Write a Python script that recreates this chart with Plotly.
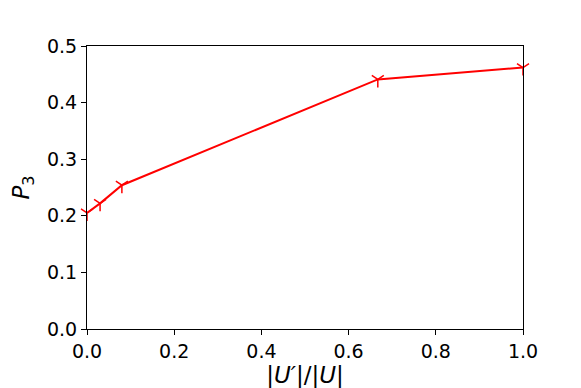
import plotly.graph_objects as go

ratio = [0.0, 0.03, 0.08, 0.667, 1.0]
p3 = [0.205, 0.222, 0.254, 0.441, 0.462]
x_ticks = [0.0, 0.2, 0.4, 0.6, 0.8, 1.0]
y_ticks = [0.0, 0.1, 0.2, 0.3, 0.4, 0.5]

fig = go.Figure()
fig.add_trace(go.Scatter(
    x=ratio, y=p3, mode="lines+markers",
    line=dict(color="#ff0000", width=2),
    marker=dict(symbol="y-down", size=10, color="#ff0000",
                line=dict(color="#ff0000", width=1.5)),
    cliponaxis=False, showlegend=False,
))

axis_common = dict(
    showline=True, linecolor="black", linewidth=1, mirror=True,
    ticks="outside", ticklen=5, tickwidth=1, tickcolor="black",
    showgrid=False, zeroline=False, automargin=False,
    tickfont=dict(family="DejaVu Sans", size=19, color="black"),
)
fig.update_xaxes(range=[0, 1], tickvals=x_ticks,
                 ticktext=[f"{v:.1f}" for v in x_ticks],
                 title=dict(text="|<i>U′</i>|/|<i>U</i>|",
                            font=dict(family="DejaVu Sans", size=23, color="black"),
                            standoff=4),
                 **axis_common)
fig.update_yaxes(range=[0, 0.5], tickvals=y_ticks,
                 ticktext=[f"{v:.1f}" for v in y_ticks],
                 title=dict(text="<i>P</i><sub>3</sub>",
                            font=dict(family="DejaVu Sans", size=23, color="black"),
                            standoff=10),
                 **axis_common)
fig.update_layout(
    width=581, height=388,
    margin=dict(l=87, r=58, t=46, b=59, autoexpand=False),
    plot_bgcolor="white", paper_bgcolor="white",
)
fig.write_html("out.html", config={"displayModeBar": False},
               post_script="document.body.style.margin='0';document.body.style.overflow='hidden';")
